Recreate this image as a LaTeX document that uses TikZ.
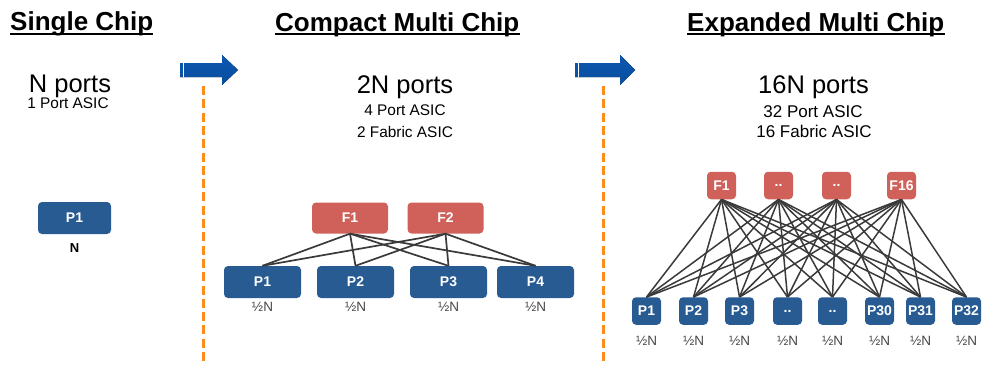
\documentclass[tikz,border=0pt]{standalone}
\usepackage{fontspec}
\setmainfont{Liberation Sans}
\usetikzlibrary{positioning}

\definecolor{portblue}{HTML}{275B92}
\definecolor{fabricred}{HTML}{CF615A}
\definecolor{meshgray}{HTML}{3A3A3A}
\definecolor{dashorange}{HTML}{FF8C1A}
\definecolor{arrowblue}{HTML}{0B58B2}

\begin{document}
\begin{tikzpicture}[
    x=1pt, y=-1pt,
    chip/.style={rounded corners=4pt, text=white, inner sep=0pt, font=\fontsize{14}{14}\selectfont\bfseries},
    port/.style={chip, fill=portblue},
    fabric/.style={chip, fill=fabricred},
    bigchip/.style={minimum width=76pt, minimum height=31pt},
    smallchip/.style={minimum width=29pt, minimum height=27.5pt},
    heading/.style={inner sep=0pt, anchor=base west, font=\fontsize{26}{26}\selectfont\bfseries},
    ports/.style={inner sep=0pt, anchor=base, font=\fontsize{25.5}{25.5}\selectfont},
    asic/.style={inner sep=0pt, anchor=base, font=\fontsize{15.4}{15.4}\selectfont},
    share/.style={inner sep=0pt, text=black!72, font=\fontsize{13.5}{13.5}\selectfont},
    link/.style={draw=meshgray, line width=1.7pt},
    divider/.style={draw=dashorange, line width=3pt, dash pattern=on 9pt off 4.3pt},
    flow/.style={top color=arrowblue, bottom color=arrowblue!88!black}
]
\useasboundingbox (0,0) rectangle (982,364);

% Single chip
\node[heading] (singletitle) at (10,30.5) {Single Chip};
\node[ports] (singleports) at (70,92) {N ports};
\node[asic] (singleasic) at (68,108) {1 Port ASIC};
\node[port, minimum width=73pt, minimum height=32pt] (sp1) at (74.5,218) {P1};
\node[share, text=black, font=\fontsize{13}{13}\selectfont\bfseries, below=9pt of sp1] (sn) {N};

% Compact multi chip
\node[heading] (compacttitle) at (275,31) {Compact Multi Chip};
\node[ports] (compactports) at (405,93) {2N ports};
\node[asic] (compactasic) at (405,115) {4 Port ASIC};
\node[asic] (compactfabric) at (405,137) {2 Fabric ASIC};

\node[fabric, bigchip] (mf1) at (350,218) {F1};
\node[fabric, bigchip] (mf2) at (445.5,218) {F2};
\node[port, bigchip, minimum width=77pt, minimum height=32pt] (mp1) at (262.5,282) {P1};
\node[port, bigchip, minimum width=77pt, minimum height=32pt] (mp2) at (355.5,282) {P2};
\node[port, bigchip, minimum width=77pt, minimum height=32pt] (mp3) at (448.5,282) {P3};
\node[port, bigchip, minimum width=77pt, minimum height=32pt] (mp4) at (535.5,282) {P4};
\node[share, below=4pt of mp1] (mn1) {½N};
\node[share, below=4pt of mp2] (mn2) {½N};
\node[share, below=4pt of mp3] (mn3) {½N};
\node[share, below=4pt of mp4] (mn4) {½N};

% Expanded multi chip
\node[heading] (expandedtitle) at (687,31) {Expanded Multi Chip};
\node[ports] (expandedports) at (813.5,93) {16N ports};
\node[asic, font=\fontsize{17}{17}\selectfont] (expandedasic) at (813,117) {32 Port ASIC};
\node[asic, font=\fontsize{17}{17}\selectfont] (expandedfabric) at (814,137) {16 Fabric ASIC};

\node[fabric, smallchip] (ef1) at (721.5,185.5) {F1};
\node[fabric, smallchip] (efa) at (778.5,185.5) {..};
\node[fabric, smallchip] (efb) at (836.5,185.5) {..};
\node[fabric, smallchip] (ef16) at (901.5,185.5) {F16};
\node[port, smallchip] (ep1) at (646.5,311) {P1};
\node[port, smallchip] (ep2) at (693.5,311) {P2};
\node[port, smallchip] (ep3) at (739.5,311) {P3};
\node[port, smallchip] (epa) at (787.5,311) {..};
\node[port, smallchip] (epb) at (832.5,311) {..};
\node[port, smallchip] (ep30) at (879.5,311) {P30};
\node[port, smallchip] (ep31) at (920.5,311) {P31};
\node[port, smallchip] (ep32) at (966.5,311) {P32};
\node[share, below=11pt of ep1] (en1) {½N};
\node[share, below=11pt of ep2] (en2) {½N};
\node[share, below=11pt of ep3] (en3) {½N};
\node[share, below=11pt of epa] (ena) {½N};
\node[share, below=11pt of epb] (enb) {½N};
\node[share, below=11pt of ep30] (en30) {½N};
\node[share, below=11pt of ep31] (en31) {½N};
\node[share, below=11pt of ep32] (en32) {½N};

% Underlines
\draw[line width=2pt] ([yshift=-3pt]singletitle.base west) -- ([yshift=-3pt]singletitle.base east);
\draw[line width=2pt] ([yshift=-3pt]compacttitle.base west) -- ([yshift=-3pt]compacttitle.base east);
\draw[line width=2pt] ([yshift=-3pt]expandedtitle.base west) -- ([yshift=-3pt]expandedtitle.base east);

% Stage arrows and dividers
\fill[flow] (180,63) -- (222,63) -- (222,55) -- (238,70) -- (222,85) -- (222,77) -- (180,77) -- cycle;
\fill[flow] (575,63) -- (620,63) -- (620,55) -- (635,70) -- (620,85) -- (620,77) -- (575,77) -- cycle;
\draw[white, line width=0.8pt] (183,63) -- (183,77);
\draw[white, line width=0.8pt] (578,63) -- (578,77);
\coordinate (cut1top) at (203,86);
\coordinate (cut1bot) at (203,364);
\coordinate (cut2top) at (603,86);
\coordinate (cut2bot) at (603,364);
\draw[divider] (cut1top) -- (cut1bot);
\draw[divider] (cut2top) -- (cut2bot);

% Links
\draw[link] (mf1.south) -- (mp1.north);
\draw[link] (mf1.south) -- (mp2.north);
\draw[link] (mf1.south) -- (mp3.north);
\draw[link] (mf1.south) -- (mp4.north);
\draw[link] (mf2.south) -- (mp1.north);
\draw[link] (mf2.south) -- (mp2.north);
\draw[link] (mf2.south) -- (mp3.north);
\draw[link] (mf2.south) -- (mp4.north);

\foreach \f in {ef1, efa, efb, ef16}
  \foreach \p in {ep1, ep2, ep3, epa, epb, ep30, ep31, ep32}
    \draw[link, line width=1.5pt] (\f.south) -- (\p.north);

\end{tikzpicture}
\end{document}
